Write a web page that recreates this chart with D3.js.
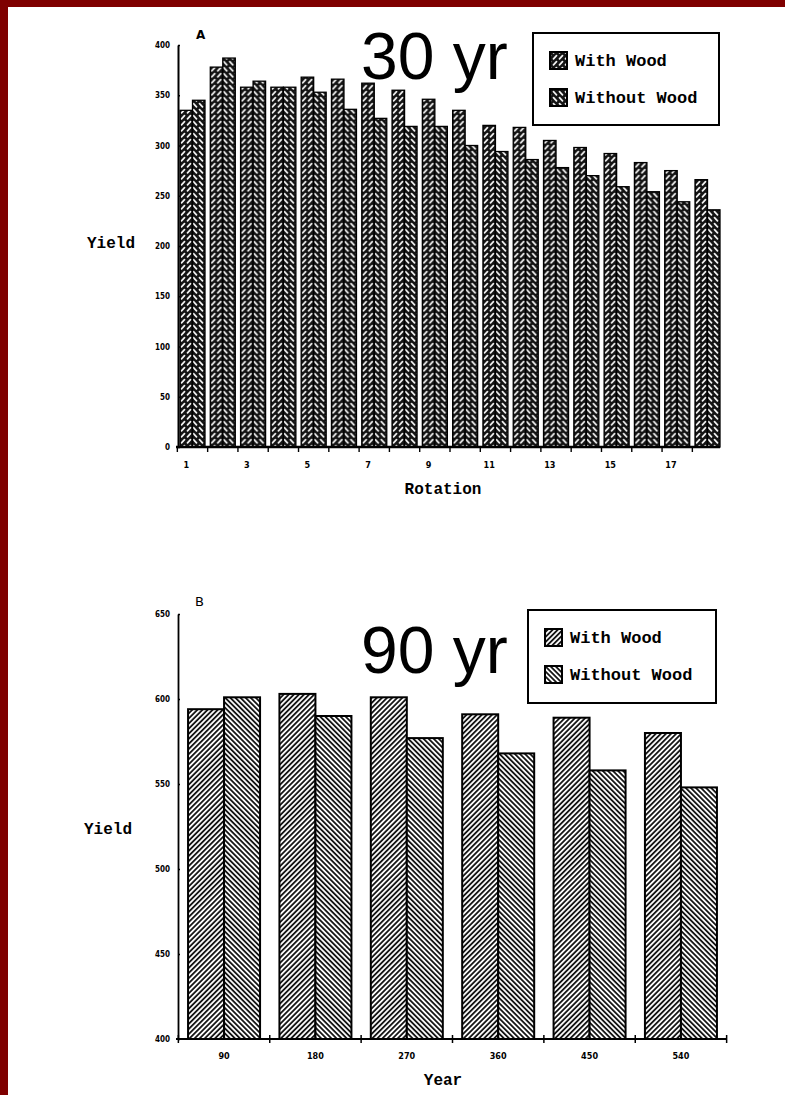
<!DOCTYPE html>
<html>
<head>
<meta charset="utf-8">
<script src="https://cdn.jsdelivr.net/npm/d3@7"></script>
<style>
  body { margin: 0; background: #fff; }
  svg { display: block; }
</style>
</head>
<body>
<svg id="chart" width="785" height="1095"></svg>
<script>
// --- data ---
const seriesNames = ["With Wood", "Without Wood"];

// panel A: 30 yr rotations
const rotations = [1, 2, 3, 4, 5, 6, 7, 8, 9, 10, 11, 12, 13, 14, 15, 16, 17, 18];
const rotWithWood = [335, 378, 358, 358, 368, 366, 362, 355, 346, 335, 320, 318, 305, 298, 292, 283, 275, 266];
const rotWithoutWood = [345, 387, 364, 358, 353, 336, 327, 319, 319, 300, 294, 286, 278, 270, 259, 254, 244, 236];
const rotTickLabels = [1, 3, 5, 7, 9, 11, 13, 15, 17];
const yTicksA = [0, 50, 100, 150, 200, 250, 300, 350, 400];

// panel B: 90 yr, by year
const years = ["90", "180", "270", "360", "450", "540"];
const yearWithWood = [594, 603, 601, 591, 589, 580];
const yearWithoutWood = [601, 590, 577, 568, 558, 548];
const yTicksB = [400, 450, 500, 550, 600, 650];

const svg = d3.select("#chart");
const tickFont = "'DejaVu Sans Condensed', 'DejaVu Sans', sans-serif";
const monoFont = "'Liberation Mono', 'DejaVu Sans Mono', monospace";

// red frame of the slide
svg.append("rect").attr("x", 0).attr("y", 0).attr("width", 8).attr("height", 1095).attr("fill", "#7f0000");
svg.append("rect").attr("x", 0).attr("y", 0).attr("width", 785).attr("height", 7).attr("fill", "#7f0000");

// --- fill patterns ---
const defs = svg.append("defs");

function dashPattern(id, d) {
    const p = defs.append("pattern").attr("id", id)
        .attr("patternUnits", "userSpaceOnUse")
        .attr("width", 6).attr("height", 6);
    p.append("rect").attr("width", 6).attr("height", 6).attr("fill", "#141414");
    p.append("path").attr("d", d).attr("stroke", "#f2f2f2")
        .attr("stroke-width", 1.7).attr("stroke-linecap", "round");
}
dashPattern("dashWith", "M1.5,4.8 L4.5,1.6");
dashPattern("dashWithout", "M1.5,1.6 L4.5,4.8");

function hatchPattern(id, angle) {
    const p = defs.append("pattern").attr("id", id)
        .attr("patternUnits", "userSpaceOnUse")
        .attr("width", 3.6).attr("height", 3.6)
        .attr("patternTransform", `rotate(${angle})`);
    p.append("rect").attr("width", 3.6).attr("height", 3.6).attr("fill", "#fafafa");
    p.append("line").attr("x1", 0.9).attr("y1", 0).attr("x2", 0.9).attr("y2", 3.6)
        .attr("stroke", "#161616").attr("stroke-width", 1.8);
}
hatchPattern("hatchWith", 45);
hatchPattern("hatchWithout", -45);

// ================= Panel A =================
const xA = d3.scaleBand().domain(rotations).range([178, 722]).paddingInner(0.175).paddingOuter(0.066);
const xA1 = d3.scaleBand().domain(seriesNames).range([0, xA.bandwidth()]);
const yA = d3.scaleLinear().domain([0, 400]).range([447, 45]);

const gA = svg.append("g");
const rowsA = rotations.map((r, i) => ({ key: r, vals: [rotWithWood[i], rotWithoutWood[i]] }));

gA.selectAll("g.grp").data(rowsA).enter().append("g")
    .attr("transform", d => `translate(${xA(d.key)},0)`)
    .selectAll("rect").data(d => d.vals.map((v, j) => ({ s: seriesNames[j], v })))
    .enter().append("rect")
    .attr("x", d => xA1(d.s))
    .attr("y", d => yA(d.v))
    .attr("width", xA1.bandwidth())
    .attr("height", d => yA(0) - yA(d.v))
    .attr("fill", d => d.s === seriesNames[0] ? "url(#dashWith)" : "url(#dashWithout)")
    .attr("stroke", "#000").attr("stroke-width", 1.3);

// y axis A
const axA = gA.append("g").attr("transform", "translate(178,0)")
    .call(d3.axisLeft(yA).tickValues(yTicksA).tickSize(5).tickPadding(3).tickSizeOuter(0));
axA.select(".domain").attr("stroke-width", 2);
axA.selectAll(".tick line").attr("stroke-width", 1.6).attr("x2", 2);
axA.selectAll("text").attr("font-family", tickFont).attr("font-weight", "bold")
    .attr("font-size", 8).attr("fill", "#000");

// x axis A
const xLabA = d3.scaleOrdinal().domain(rotations)
    .range(rotations.map(r => xA(r) + xA1(seriesNames[0]) + xA1.bandwidth() / 2));
gA.append("line").attr("x1", 176).attr("x2", 720).attr("y1", yA(0)).attr("y2", yA(0))
    .attr("stroke", "#000").attr("stroke-width", 2.6);
const gapA = xA.step() * xA.paddingInner() / 2;
gA.selectAll("line.mt").data(rotations).enter().append("line")
    .attr("x1", d => xA(d) - gapA).attr("x2", d => xA(d) - gapA)
    .attr("y1", yA(0)).attr("y2", yA(0) + 5)
    .attr("stroke", "#000").attr("stroke-width", 1.4);
gA.selectAll("text.xl").data(rotTickLabels).enter().append("text")
    .attr("x", d => xLabA(d)).attr("y", yA(0) + 21)
    .attr("text-anchor", "middle")
    .attr("font-family", tickFont).attr("font-weight", "bold").attr("font-size", 9)
    .text(d => d);

gA.append("text").attr("x", 443).attr("y", 494).attr("text-anchor", "middle")
    .attr("font-family", monoFont).attr("font-weight", "bold").attr("font-size", 16)
    .text("Rotation");
gA.append("text").attr("x", 87).attr("y", 248)
    .attr("font-family", monoFont).attr("font-weight", "bold").attr("font-size", 16)
    .text("Yield");
gA.append("text").attr("x", 196).attr("y", 39)
    .attr("font-family", "'DejaVu Sans', sans-serif").attr("font-weight", "bold").attr("font-size", 12)
    .text("A");
gA.append("text").attr("x", 361).attr("y", 79)
    .attr("font-family", "'Liberation Sans', Arial, sans-serif").attr("font-size", 66)
    .text("30 yr");

// ================= Panel B =================
const xB = d3.scaleBand().domain(years).range([178, 727]).paddingInner(0.212).paddingOuter(0.11);
const xB1 = d3.scaleBand().domain(seriesNames).range([0, xB.bandwidth()]);
const yB = d3.scaleLinear().domain([400, 650]).range([1039, 614]);

const gB = svg.append("g");
const rowsB = years.map((y, i) => ({ key: y, vals: [yearWithWood[i], yearWithoutWood[i]] }));

gB.selectAll("g.grp").data(rowsB).enter().append("g")
    .attr("transform", d => `translate(${xB(d.key)},0)`)
    .selectAll("rect").data(d => d.vals.map((v, j) => ({ s: seriesNames[j], v })))
    .enter().append("rect")
    .attr("x", d => xB1(d.s))
    .attr("y", d => yB(d.v))
    .attr("width", xB1.bandwidth())
    .attr("height", d => yB(400) - yB(d.v))
    .attr("fill", d => d.s === seriesNames[0] ? "url(#hatchWith)" : "url(#hatchWithout)")
    .attr("stroke", "#000").attr("stroke-width", 2);

const axB = gB.append("g").attr("transform", "translate(178,0)")
    .call(d3.axisLeft(yB).tickValues(yTicksB).tickSize(5).tickPadding(3).tickSizeOuter(0));
axB.select(".domain").attr("stroke-width", 1.8);
axB.selectAll(".tick line").attr("stroke-width", 1.6).attr("x2", 2);
axB.selectAll("text").attr("font-family", tickFont).attr("font-weight", "bold")
    .attr("font-size", 8).attr("fill", "#000");

gB.append("line").attr("x1", 176).attr("x2", 727).attr("y1", yB(400)).attr("y2", yB(400))
    .attr("stroke", "#000").attr("stroke-width", 2.2);
const gapB = xB.step() * xB.paddingInner() / 2;
const bTicks = years.map(y => xB(y) - gapB).concat([xB(years[years.length - 1]) + xB.bandwidth() + gapB]);
gB.selectAll("line.mt").data(bTicks).enter().append("line")
    .attr("x1", d => d).attr("x2", d => d)
    .attr("y1", yB(400) - 4).attr("y2", yB(400) + 4)
    .attr("stroke", "#000").attr("stroke-width", 1.5);
gB.selectAll("text.xl").data(years).enter().append("text")
    .attr("x", d => xB(d) + xB.bandwidth() / 2).attr("y", yB(400) + 20)
    .attr("text-anchor", "middle")
    .attr("font-family", tickFont).attr("font-weight", "bold").attr("font-size", 9)
    .text(d => d);

gB.append("text").attr("x", 443).attr("y", 1085).attr("text-anchor", "middle")
    .attr("font-family", monoFont).attr("font-weight", "bold").attr("font-size", 16)
    .text("Year");
gB.append("text").attr("x", 84).attr("y", 834)
    .attr("font-family", monoFont).attr("font-weight", "bold").attr("font-size", 16)
    .text("Yield");
gB.append("text").attr("x", 195).attr("y", 606)
    .attr("font-family", "'DejaVu Sans', sans-serif").attr("font-size", 13)
    .text("B");
gB.append("text").attr("x", 361).attr("y", 673)
    .attr("font-family", "'Liberation Sans', Arial, sans-serif").attr("font-size", 66)
    .text("90 yr");

// --- legends ---
function legend(x, y, w, h, fills, rowY) {
    const g = svg.append("g");
    g.append("rect").attr("x", x).attr("y", y).attr("width", w).attr("height", h)
        .attr("fill", "#fff").attr("stroke", "#000").attr("stroke-width", 2);
    seriesNames.forEach((name, i) => {
        g.append("rect").attr("x", x + 17).attr("y", y + rowY[i] - 9)
            .attr("width", 17).attr("height", 17)
            .attr("fill", fills[i]).attr("stroke", "#000").attr("stroke-width", 2);
        g.append("text").attr("x", x + 42).attr("y", y + rowY[i] + 5)
            .attr("font-family", monoFont).attr("font-weight", "bold").attr("font-size", 17)
            .text(name);
    });
}
legend(533, 33, 186, 92, ["url(#dashWith)", "url(#dashWithout)"], [28, 65]);
legend(528, 610, 188, 93, ["url(#hatchWith)", "url(#hatchWithout)"], [28, 65]);
</script>
</body>
</html>
